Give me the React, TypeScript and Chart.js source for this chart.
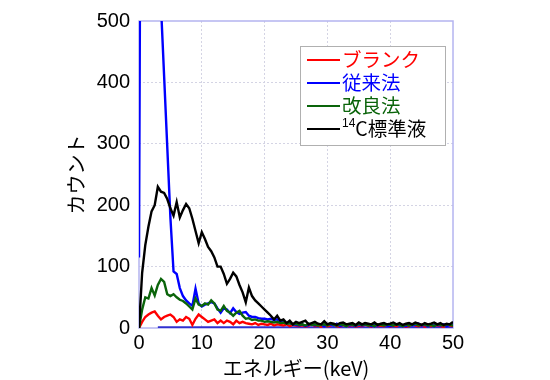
import React, { useEffect, useRef } from 'react';
import { Chart, registerables } from 'chart.js';

Chart.register(...registerables);

const energies = [
  0, 0.5, 1, 1.5, 2, 2.5, 3, 3.5, 4, 4.5, 5, 5.5, 6, 6.5, 7, 7.5, 8, 8.5, 9, 9.5,
  10, 10.5, 11, 11.5, 12, 12.5, 13, 13.5, 14, 14.5, 15, 15.5, 16, 16.5, 17, 17.5, 18, 18.5, 19, 19.5,
  20, 20.5, 21, 21.5, 22, 22.5, 23, 23.5, 24, 24.5, 25, 25.5, 26, 26.5, 27, 27.5, 28, 28.5, 29, 29.5,
  30, 30.5, 31, 31.5, 32, 32.5, 33, 33.5, 34, 34.5, 35, 35.5, 36, 36.5, 37, 37.5, 38, 38.5, 39, 39.5,
  40, 40.5, 41, 41.5, 42, 42.5, 43, 43.5, 44, 44.5, 45, 45.5, 46, 46.5, 47, 47.5, 48, 48.5, 49, 49.5,
  50,
];

const blank = [
  0, 10, 18, 22, 25, 27, 20, 14, 18, 20, 22, 18, 10, 14, 12, 18, 15, 5, 15, 22,
  18, 14, 10, 12, 14, 8, 12, 8, 12, 10, 6, 12, 8, 10, 8, 7, 6, 8, 5, 7,
  6, 5, 7, 4, 6, 5, 4, 6, 3, 5, 4,
  3, 5, 2, 4, 6, 3, 4, 2, 5, 3, 4, 6, 3, 2, 5, 4, 3, 5, 2, 4,
  3, 5, 4, 2, 6, 3, 4, 3, 5, 2, 4, 3, 5, 4, 2, 3, 6, 4, 3, 5,
  2, 4, 3, 5, 4, 3, 2, 5, 4, 3,
];

const conventional = [
  115, 1500, 1300, 1150, 1000, 880, 720, 525, 410, 295, 180, 92, 88, 65, 52, 45, 40, 36, 64, 40,
  35, 38, 40, 42, 40, 32, 25, 32, 30, 24, 32, 26, 23, 25, 26, 20, 18, 18, 16, 15,
  15, 14, 15, 13, 14, 10, 9, 8, 8, 6, 5,
  4, 6, 3, 5, 7, 4, 6, 5, 3, 6, 5, 4, 7, 3, 5, 6, 4, 5, 3, 6,
  4, 5, 6, 3, 5, 4, 6, 5, 4, 3, 5, 6, 4, 5, 3, 6, 4, 5, 7, 4,
  5, 3, 6, 4, 5, 4, 6, 3, 5, 6,
];

const improved = [
  0, 30, 50, 48, 65, 53, 70, 80, 75, 55, 52, 55, 50, 46, 44, 40, 35, 30, 48, 38,
  36, 40, 38, 45, 40, 30, 28, 36, 28, 25, 20, 25, 28, 20, 15, 16, 13, 14, 12, 12,
  10, 11, 10, 9, 10, 8, 9, 7, 8, 6, 7,
  5, 6, 4, 7, 5, 6, 4, 5, 6, 4, 7, 5, 4, 6, 5, 3, 6, 5, 4, 7,
  5, 6, 4, 5, 3, 6, 5, 4, 6, 5, 4, 6, 5, 3, 6, 4, 5, 7, 4, 5,
  6, 4, 5, 3, 6, 5, 4, 6, 5, 4,
];

const standard = [
  0, 90, 135, 165, 190, 200, 230, 222, 220, 210, 195, 183, 205, 180, 192, 202, 195, 178, 158, 138,
  156, 145, 132, 125, 115, 100, 100, 88, 72, 80, 90, 84, 70, 58, 42, 66, 52, 45, 40, 35,
  30, 25, 20, 14, 20, 12, 14, 8, 12, 6, 10,
  8, 10, 12, 6, 8, 10, 7, 6, 11, 6, 8, 7, 5, 8, 9, 6, 7, 8, 5, 9,
  6, 8, 7, 6, 9, 5, 7, 8, 6, 7, 9, 6, 8, 5, 7, 8, 6, 9, 7, 5,
  8, 6, 7, 9, 6, 8, 5, 7, 6, 10,
];

const baselineX = [3, 50];
const baselineY = [1, 1];

const seriesLabels = ['ブランク', '従来法', '改良法', '¹⁴C標準液'];
const seriesColors = ['#ff0000', '#0000ff', '#0a640a', '#000000'];
const xTicks = [0, 10, 20, 30, 40, 50];
const yTicks = [0, 100, 200, 300, 400, 500];
const xTitle = 'エネルギー(keV)';
const yTitle = 'カウント';

const CJK = '"Noto Sans CJK JP", "Noto Sans", sans-serif';
const NUM = '"Liberation Sans", Arial, sans-serif';

const supMap: Record<string, string> = {
  '⁰': '0', '¹': '1', '²': '2', '³': '3', '⁴': '4', '⁵': '5', '⁶': '6', '⁷': '7', '⁸': '8', '⁹': '9',
};

function drawRichLabel(ctx: CanvasRenderingContext2D, text: string, x: number, y: number, size: number, color: string) {
  let cx = x;
  ctx.fillStyle = color;
  ctx.textBaseline = 'middle';
  ctx.textAlign = 'left';
  for (const ch of Array.from(text)) {
    if (supMap[ch]) {
      ctx.font = `${Math.round(size * 0.62)}px ${NUM}`;
      const c = supMap[ch];
      ctx.fillText(c, cx, y - size * 0.28);
      cx += ctx.measureText(c).width;
    } else {
      ctx.font = `${size}px ${CJK}`;
      ctx.fillText(ch, cx, y);
      cx += ctx.measureText(ch).width;
    }
  }
}

const framePlugin = {
  id: 'frame',
  beforeDatasetsDraw(chart: any) {
    const { ctx, chartArea } = chart;
    ctx.save();
    ctx.strokeStyle = '#b4b4f0';
    ctx.lineWidth = 1.5;
    ctx.strokeRect(chartArea.left, chartArea.top, chartArea.right - chartArea.left, chartArea.bottom - chartArea.top);
    ctx.restore();
  },
};

const legendPlugin = {
  id: 'boxLegend',
  afterDraw(chart: any) {
    const { ctx, chartArea } = chart;
    const left = chartArea.right - 153;
    const top = chartArea.top + 25;
    const w = 145;
    const h = 99;
    ctx.save();
    ctx.fillStyle = '#ffffff';
    ctx.fillRect(left, top, w, h);
    ctx.strokeStyle = '#b0b0b0';
    ctx.lineWidth = 1;
    ctx.strokeRect(left + 0.5, top + 0.5, w, h);
    chart.data.datasets.slice(0, 4).forEach((ds: any, i: number) => {
      const y = top + 14 + i * 23;
      ctx.strokeStyle = ds.borderColor;
      ctx.lineWidth = 2;
      ctx.beginPath();
      ctx.moveTo(left + 7, y);
      ctx.lineTo(left + 40, y);
      ctx.stroke();
      drawRichLabel(ctx, ds.label, left + 42, y, 19.5, ds.borderColor);
    });
    ctx.restore();
  },
};

const gridColor = (c: any) => {
  const v = c.tick && c.tick.value;
  if (c.scale.axis === 'x') return v === 0 || v === 50 ? 'rgba(0,0,0,0)' : '#d4d4e4';
  return v === 0 || v === 500 ? 'rgba(0,0,0,0)' : '#d4d4e4';
};

export default function App() {
  const ref = useRef<HTMLCanvasElement | null>(null);

  useEffect(() => {
    document.body.style.margin = '0';
    if (!ref.current) return;
    const series = [blank, conventional, improved, standard];
    const orders = [4, 3, 2, 1];
    const datasets: any[] = series.map((arr, i) => ({
      label: seriesLabels[i],
      data: energies.map((x, j) => ({ x, y: arr[j] })),
      borderColor: seriesColors[i],
      backgroundColor: seriesColors[i],
      borderWidth: 2.4,
      pointRadius: 0,
      tension: 0,
      fill: false,
      order: orders[i],
    }));
    datasets.push({
      label: 'baseline',
      data: baselineX.map((x, j) => ({ x, y: baselineY[j] })),
      borderColor: '#3030d0',
      borderWidth: 2.5,
      pointRadius: 0,
      fill: false,
      order: 5,
    });

    const chart = new Chart(ref.current, {
      type: 'line',
      data: { datasets },
      options: {
        responsive: false,
        animation: false,
        layout: { padding: { left: 64, top: 16, right: 97, bottom: 0 } },
        plugins: { legend: { display: false }, tooltip: { enabled: false } },
        scales: {
          x: {
            type: 'linear',
            min: 0,
            max: 50,
            afterBuildTicks: (s: any) => {
              s.ticks = xTicks.map((v) => ({ value: v }));
            },
            afterFit: (s: any) => {
              s.height = 52;
            },
            grid: { color: gridColor, drawTicks: false, lineWidth: 1 },
            border: { display: false, dash: [2, 2] },
            ticks: {
              padding: 3,
              color: '#000',
              font: { family: NUM, size: 20 },
              maxRotation: 0,
              autoSkip: false,
            },
            title: {
              display: true,
              text: xTitle,
              color: '#000',
              font: { family: CJK, size: 20 },
              padding: { top: 0, bottom: 0, left: 0, right: 0 },
            },
          },
          y: {
            type: 'linear',
            min: 0,
            max: 500,
            afterBuildTicks: (s: any) => {
              s.ticks = yTicks.map((v) => ({ value: v }));
            },
            afterFit: (s: any) => {
              s.width = 75;
            },
            grid: { color: gridColor, drawTicks: false, lineWidth: 1 },
            border: { display: false, dash: [2, 2] },
            ticks: {
              padding: 9,
              color: '#000',
              font: { family: NUM, size: 20 },
              autoSkip: false,
            },
            title: {
              display: true,
              text: yTitle,
              color: '#000',
              font: { family: CJK, size: 20 },
              padding: 0,
            },
          },
        },
      },
      plugins: [framePlugin, legendPlugin],
    });
    return () => chart.destroy();
  }, []);

  return (
    <div style={{ width: 550, height: 380, position: 'relative', background: '#fff' }}>
      <canvas ref={ref} width={550} height={380} style={{ display: 'block' }} />
    </div>
  );
}
